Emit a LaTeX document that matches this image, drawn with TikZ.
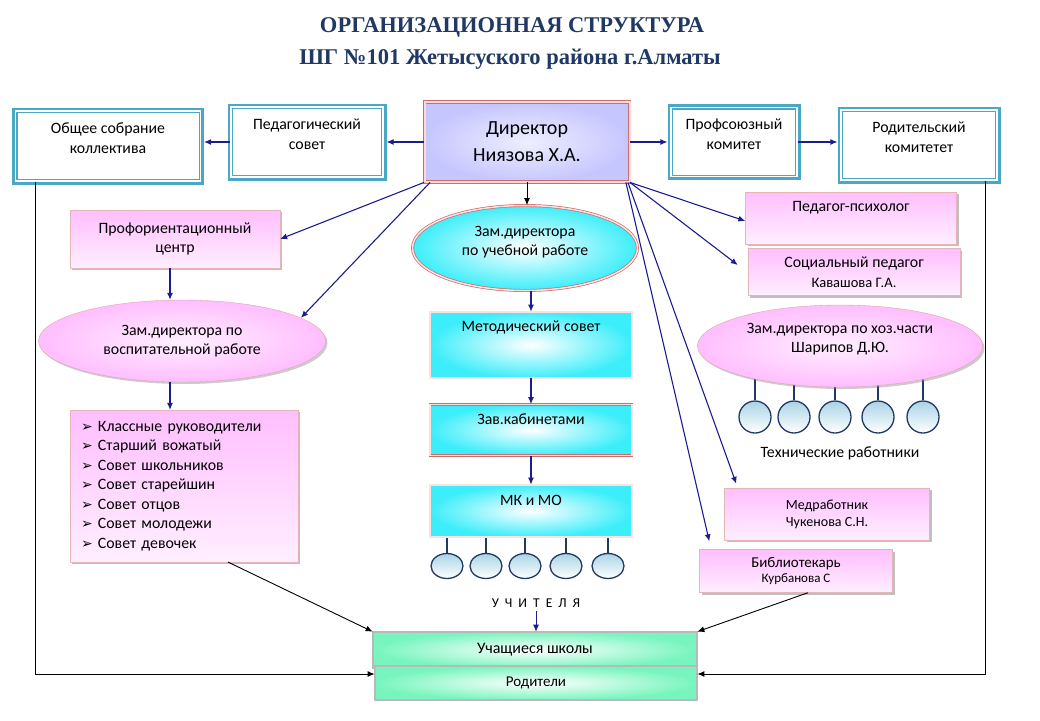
\documentclass[tikz,border=0pt]{standalone}
\usepackage{fontspec}
\setmainfont{Carlito}
\newfontfamily\titlefont{Liberation Serif}[BoldFont={Liberation Serif Bold}]
\newfontfamily\symfont{DejaVu Sans}
\usetikzlibrary{arrows.meta,shapes.geometric,shadows,backgrounds}

\definecolor{tealc}{RGB}{75,168,196}
\definecolor{navyc}{RGB}{28,28,145}
\definecolor{redb}{RGB}{200,110,110}
\definecolor{lavc}{RGB}{198,198,255}
\definecolor{pinkc}{RGB}{255,190,255}
\definecolor{cyanc}{RGB}{60,238,250}
\definecolor{mintc}{RGB}{120,245,190}
\definecolor{circc}{RGB}{170,212,230}
\definecolor{titlec}{RGB}{31,56,100}

\newcommand{\itm}{{\symfont\fontsize{14}{19}\selectfont ➢}\ }

\tikzset{
  titletext/.style={font=\titlefont\bfseries\fontsize{22.5}{26}\selectfont, text=titlec},
  tealbox/.style={preaction={draw=tealc, line width=7pt},
    draw=tealc, double=white, double distance=1.8pt, line width=1.1pt,
    fill=white, align=center, text depth=16pt},
  dirbox/.style={draw=redb, double=red!15, double distance=2pt, line width=0.8pt,
    inner color=lavc!30, outer color=lavc, align=center, font=\fontsize{20}{27}\selectfont},
  pinkbox/.style={draw=redb!50, top color=pinkc, bottom color=pinkc!25, align=center,
    drop shadow={shadow xshift=2pt, shadow yshift=-2pt, fill=gray, opacity=0.5}},
  pinkell/.style={ellipse, draw=redb!60, inner color=pinkc!25, outer color=pinkc,
    align=center, inner sep=0pt,
    drop shadow={shadow xshift=2pt, shadow yshift=-2pt, fill=gray, opacity=0.4}},
  cyanbox/.style={draw=redb, double=red!12, double distance=1.5pt, line width=0.7pt,
    inner color=white, outer color=cyanc, align=center},
  mintbox/.style={draw=redb, double=gray!55, double distance=1.5pt, line width=0.7pt,
    inner color=white, outer color=mintc, align=center},
  teach/.style={ellipse, draw=titlec, line width=1.3pt, top color=circc, bottom color=white,
    minimum width=32pt, minimum height=25pt, inner sep=0pt},
  techc/.style={circle, draw=titlec, line width=1.3pt, top color=circc, bottom color=white,
    minimum size=32pt, inner sep=0pt},
  lifttext/.style={text depth=#1},
  bl/.style={->, draw=navyc, line width=1.1pt},
  bk/.style={->, draw=black, line width=0.9pt},
}

\begin{document}
\begin{tikzpicture}[x=1pt,y=-1pt,>={Latex[length=7pt,width=6pt]},
  font=\fontsize{15.8}{19.5}\selectfont]
  \useasboundingbox (0,0) rectangle (1040,720);
  % title
  \node[titletext] (t1) at (512,27) {ОРГАНИЗАЦИОННАЯ СТРУКТУРА};
  \node[titletext] (t2) at (510,59) {ШГ №101 Жетысуского района г.Алматы};

  % top row
  \node[tealbox, minimum width=185pt, minimum height=70pt] (obsh) at (108,146) {Общее собрание\\коллектива};
  \node[tealbox, minimum width=152pt, minimum height=70pt] (ped) at (307,142) {Педагогический\\совет};
  \node[dirbox, minimum width=205pt, minimum height=80pt] (dir) at (527,142) {Директор\\Ниязова Х.А.};
  \node[tealbox, minimum width=126pt, minimum height=69pt] (prof) at (734,142) {Профсоюзный\\комитет};
  \node[tealbox, minimum width=156pt, minimum height=70pt] (rod) at (919,145) {Родительский\\комитетет};

  % left column
  \node[pinkbox, minimum width=210pt, minimum height=58pt] (prfc) at (175,239) {Профориентационный\\центр};
  \node[pinkell, minimum width=287pt, minimum height=82pt] (vosp) at (182,341) {Зам.директора по\\воспитательной работе};
  \node[pinkbox, align=left, text width=206pt, inner sep=11pt, minimum height=143pt] (list) at (184,486)
    {\itm Классные руководители\\ \itm Старший вожатый\\ \itm Совет школьников\\
     \itm Совет старейшин\\ \itm Совет отцов\\ \itm Совет молодежи\\ \itm Совет девочек};

  % middle column
  \node[cyanbox, ellipse, inner sep=0pt, minimum width=225pt, minimum height=85pt, lifttext=14pt] (uch) at (525,248) {Зам.директора\\по учебной работе};
  \node[cyanbox, minimum width=202pt, minimum height=66pt, lifttext=38pt] (met) at (531,345) {Методический совет};
  \node[cyanbox, minimum width=202pt, minimum height=51pt, lifttext=22pt] (zav) at (531,430) {Зав.кабинетами};
  \node[cyanbox, minimum width=202pt, minimum height=52pt, lifttext=22pt] (mk) at (531,511) {МК и МО};
  \foreach \x [count=\i] in {447,486,525,566,608}
    \node[teach] (t\i) at (\x,566) {};
  \node[font=\fontsize{13.5}{15}\selectfont\addfontfeature{LetterSpace=45}] (ucht) at (536,603) {УЧИТЕЛЯ};
  \node[mintbox, minimum width=324pt, minimum height=36pt, font=\fontsize{16}{17}\selectfont] (stud) at (535,650) {Учащиеся школы};
  \node[mintbox, minimum width=322pt, minimum height=34pt, font=\fontsize{15}{16}\selectfont] (par) at (536,683) {Родители};

  % right column
  \node[pinkbox, minimum width=211pt, minimum height=52pt, lifttext=24pt] (psy) at (851,218) {Педагог-психолог};
  \node[pinkbox, minimum width=212pt, minimum height=47pt] (soc) at (854,272) {Социальный педагог\\{\fontsize{14.5}{17}\selectfont Кавашова Г.А.}};
  \node[pinkell, minimum width=285pt, minimum height=82pt, lifttext=16pt] (hoz) at (840,346) {Зам.директора по хоз.части\\Шарипов Д.Ю.};
  \foreach \x [count=\i] in {755,794,835,878,923}
    \node[techc] (c\i) at (\x,417) {};
  \node (tech) at (840,453) {Технические работники};
  \node[pinkbox, minimum width=205pt, minimum height=52pt, font=\fontsize{14}{17}\selectfont] (med) at (827,514) {Медработник\\Чукенова С.Н.};
  \node[pinkbox, minimum width=193pt, minimum height=43pt, font=\fontsize{15}{15}\selectfont] (bib) at (796,571) {Библиотекарь\\{\fontsize{13}{13}\selectfont Курбанова С}};

  % stems
  \begin{scope}[on background layer]
    \foreach \i in {1,...,5} {
      \draw[titlec, line width=1.3pt] (t\i.north) -- (t\i.north |- mk.south);
      \draw[titlec, line width=1.3pt] (c\i.north) -- (c\i.north |- hoz.center);
    }
  \end{scope}

  % connectors
  \draw[bl] (dir.west) -- ([xshift=3pt]ped.east);
  \draw[bl] (ped.west) -- ([xshift=3pt]ped.west -| obsh.east);
  \draw[bl] (dir.east) -- ([xshift=-3pt]prof.west);
  \draw[bl] (prof.east) -- ([xshift=-3pt]prof.east -| rod.west);
  \draw[bk] (dir.south) -- (dir.south |- uch.north);
  \draw[bl] (uch.south -| met.north) -- (met.north);
  \draw[bl] (met.south) -- (zav.north);
  \draw[bl] (zav.south) -- (mk.north);
  \draw[bl, line width=0.8pt] (ucht.south) -- (ucht.south |- stud.north);
  \draw[bl] (dir.south west) -- (prfc.east);
  \draw[bl] ([xshift=6pt]dir.south west) -- (vosp.11);
  \draw[bl] ([xshift=-5pt]prfc.south) -- ([xshift=-5pt]prfc.south |- vosp.north);
  \draw[bl] ([xshift=-12pt]vosp.south) -- ([xshift=-12pt]vosp.south |- list.north);
  \draw[bl] (dir.south east) -- ([yshift=-3pt]psy.west);
  \draw[bl] (dir.south east) -- ([xshift=-10pt,yshift=7pt]soc.west);
  \draw[bl] ([xshift=-2pt]dir.south east) -- ([xshift=12pt,yshift=4pt]med.north west);
  \draw[bl] ([xshift=-4pt]dir.south east) -- ([xshift=10pt,yshift=8pt]bib.north west);
  \draw[bk] ([xshift=44pt]list.south) -- (stud.north west);
  \draw[bk] ([xshift=12pt]bib.south) -- (stud.north east);
  \draw[bk] ([xshift=20pt]obsh.south west) |- ([yshift=9pt]par.west);
  \draw[bk] ([xshift=-12pt]rod.south east) |- ([yshift=9pt]par.east);
\end{tikzpicture}
\end{document}
